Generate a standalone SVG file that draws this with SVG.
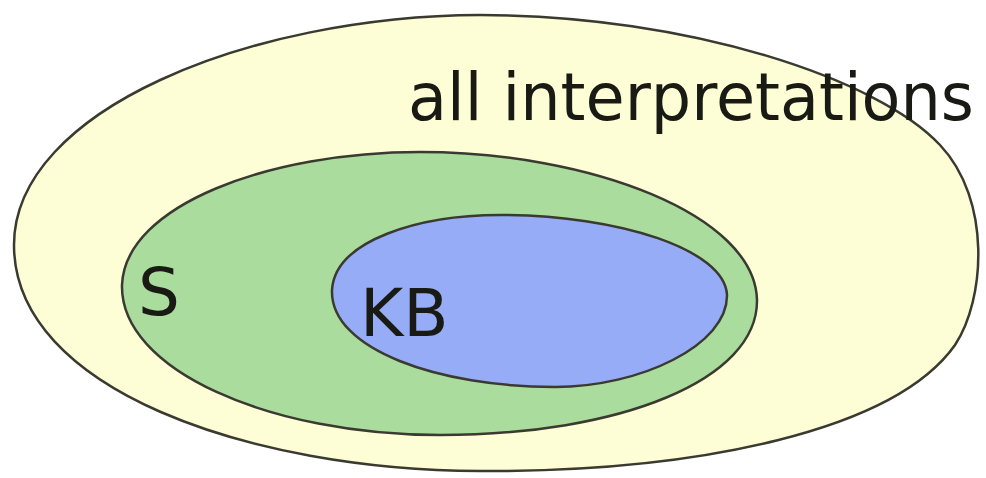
<svg xmlns="http://www.w3.org/2000/svg" width="986" height="478" viewBox="0 0 986 478">
<style>
.shape{stroke:#3a3a30;stroke-width:2.5}
.lbl{font-family:"DejaVu Sans","Verdana",sans-serif;fill:#1a1a14}
</style>
<rect width="986" height="478" fill="#ffffff"/>
<g id="all">
<path class="shape" fill="#fdfdd6" d="M14,245 C14,110 250,16 480,15 C690,15 880,80 940,145 C992,200 985,300 955,345 C895,430 700,472 480,471 C250,470 14,390 14,245 Z"/>
<text class="lbl" x="408" y="120" font-size="66" textLength="566" lengthAdjust="spacingAndGlyphs">all interpretations</text>
</g>
<g id="S">
<path class="shape" fill="#a9dc9d" d="M122,285 C125,205 270,152 420,152 C590,152 755,215 757,300 C758,380 620,435 440,435 C270,435 120,370 122,285 Z"/>
<text class="lbl" x="138" y="315" font-size="66">S</text>
</g>
<g id="KB">
<path class="shape" fill="#97acf7" d="M332,290 C335,240 420,215 500,215 C620,215 725,250 727,295 C728,345 640,387 555,387 C440,387 330,350 332,290 Z"/>
<text class="lbl" x="360" y="336" font-size="66">KB</text>
</g>
<g id="connectors"/>
</svg>
